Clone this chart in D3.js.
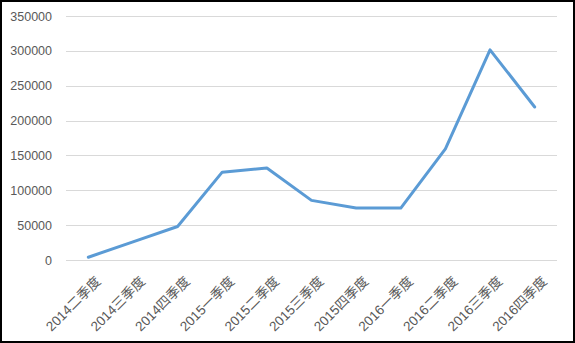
<!DOCTYPE html>
<html>
<head>
<meta charset="utf-8">
<script src="https://cdn.jsdelivr.net/npm/d3@7"></script>
<style>
  body { margin: 0; background: #fff; }
  svg { display: block; }
  text { font-family: "Liberation Sans", "Noto Sans CJK SC", sans-serif; fill: #595959; }
</style>
</head>
<body>
<div id="chart"></div>
<script>
// quarters and values
const quarters = ["2014二季度", "2014三季度", "2014四季度", "2015一季度", "2015二季度",
  "2015三季度", "2015四季度", "2016一季度", "2016二季度", "2016三季度", "2016四季度"];
const values = [4000, 26000, 48000, 126000, 132000, 85500, 74500, 74500, 159500, 301500, 219500];
const yTicks = [0, 50000, 100000, 150000, 200000, 250000, 300000, 350000];

const svgWidth = 575;
const svgHeight = 343;

const margin = { top: 16, right: 18, bottom: 83, left: 66 };
const width = svgWidth - margin.left - margin.right;
const height = svgHeight - margin.top - margin.bottom;

const svg = d3.select("#chart")
  .append("svg")
  .attr("width", svgWidth)
  .attr("height", svgHeight);

// outer frame
svg.append("rect")
  .attr("x", 1).attr("y", 1)
  .attr("width", svgWidth - 2).attr("height", svgHeight - 2)
  .attr("fill", "none")
  .attr("stroke", "#000")
  .attr("stroke-width", 2);

const chartGroup = svg.append("g")
  .attr("transform", `translate(${margin.left}, ${margin.top})`);

const x = d3.scalePoint()
  .domain(quarters)
  .range([0, width])
  .padding(0.5);

const y = d3.scaleLinear()
  .domain([0, 350000])
  .range([height, 0]);

// gridlines
chartGroup.selectAll(".grid")
  .data(yTicks)
  .enter()
  .append("line")
  .attr("x1", 0)
  .attr("x2", width)
  .attr("y1", d => Math.round(y(d)) + 0.5)
  .attr("y2", d => Math.round(y(d)) + 0.5)
  .attr("stroke", "#d9d9d9")
  .attr("stroke-width", 1);

// y axis labels
const leftAxis = d3.axisLeft(y).tickValues(yTicks).tickSize(0).tickPadding(14).tickFormat(d3.format("d"));
chartGroup.append("g")
  .call(leftAxis)
  .call(g => g.select(".domain").remove())
  .selectAll("text")
  .style("font-size", "12.5px")
  .attr("fill", "#595959");

// x axis labels, rotated
chartGroup.selectAll(".xlab")
  .data(quarters)
  .enter()
  .append("text")
  .attr("transform", d => `translate(${x(d) + 6}, ${height + 15}) rotate(-45)`)
  .attr("text-anchor", "end")
  .attr("dy", "0.75em")
  .style("font-size", "13.5px")
  .text(d => d);

// line
const line = d3.line()
  .x((d, i) => x(quarters[i]))
  .y(d => y(d));

chartGroup.append("path")
  .datum(values)
  .attr("d", line)
  .attr("fill", "none")
  .attr("stroke", "#5b9bd5")
  .attr("stroke-width", 3)
  .attr("stroke-linejoin", "round")
  .attr("stroke-linecap", "round");
</script>
</body>
</html>
